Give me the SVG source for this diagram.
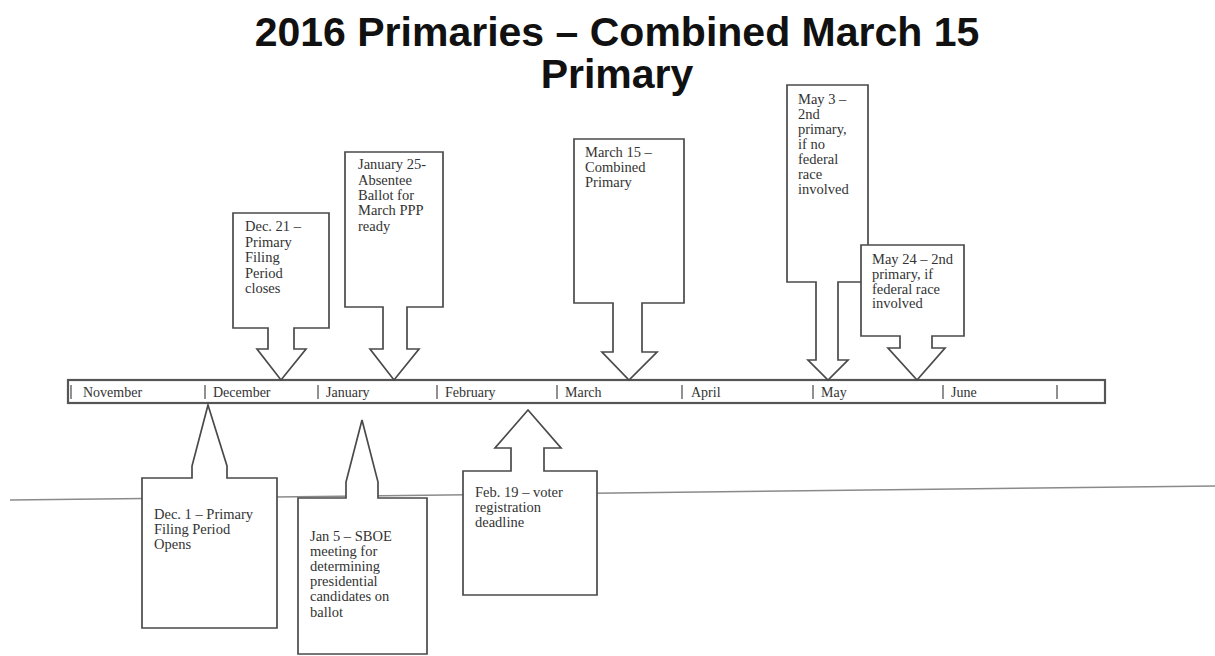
<svg xmlns="http://www.w3.org/2000/svg" width="1215" height="656" viewBox="0 0 1215 656">
<style>
.bg{fill:#ffffff}
.title{font-family:"Liberation Sans",Arial,sans-serif;font-weight:bold;font-size:41px;fill:#111;text-anchor:middle}
.callout{fill:#ffffff;stroke:#4a4a4a;stroke-width:1.7;stroke-linejoin:miter}
.t{font-family:"Liberation Serif","Times New Roman",serif;font-size:14.5px;fill:#333}
.m{font-family:"Liberation Serif","Times New Roman",serif;font-size:14px;fill:#333}
.bar{fill:#ffffff;stroke:#555;stroke-width:2.2}
.tick{stroke:#555;stroke-width:1.3}
.rule{stroke:#8a8a8a;stroke-width:1.5;fill:none}
</style>
<rect class="bg" x="0" y="0" width="1215" height="656"/>

<g id="title">
<text class="title" x="617" y="46">2016 Primaries – Combined March 15</text>
<text class="title" x="617" y="88">Primary</text>
</g>

<line class="rule" x1="10" y1="500" x2="1215" y2="486"/>

<g id="timeline">
<rect class="bar" x="68" y="380" width="1037" height="23"/>
<g>
<line class="tick" x1="71" y1="385" x2="71" y2="399"/>
<line class="tick" x1="205" y1="385" x2="205" y2="399"/>
<line class="tick" x1="318" y1="385" x2="318" y2="399"/>
<line class="tick" x1="437" y1="385" x2="437" y2="399"/>
<line class="tick" x1="557" y1="385" x2="557" y2="399"/>
<line class="tick" x1="682" y1="385" x2="682" y2="399"/>
<line class="tick" x1="813" y1="385" x2="813" y2="399"/>
<line class="tick" x1="943" y1="385" x2="943" y2="399"/>
<line class="tick" x1="1057" y1="385" x2="1057" y2="399"/>
</g>
<text class="m" x="83" y="397">November</text>
<text class="m" x="213" y="397">December</text>
<text class="m" x="326" y="397">January</text>
<text class="m" x="445" y="397">February</text>
<text class="m" x="565" y="397">March</text>
<text class="m" x="691" y="397">April</text>
<text class="m" x="821" y="397">May</text>
<text class="m" x="951" y="397">June</text>
</g>

<g id="connectors"></g>

<g id="dec21">
<path class="callout" d="M233,213 H329 V328 H294 V349 H306 L281,380 L257,349 H268 V328 H233 Z"/>
<text class="t" x="245" y="231">Dec. 21 –</text>
<text class="t" x="245" y="247">Primary</text>
<text class="t" x="245" y="262">Filing</text>
<text class="t" x="245" y="278">Period</text>
<text class="t" x="245" y="293">closes</text>
</g>

<g id="jan25">
<path class="callout" d="M345,152 H443 V307 H407 V349 H419 L394,380 L370,349 H383 V307 H345 Z"/>
<text class="t" x="358" y="169">January 25-</text>
<text class="t" x="358" y="185">Absentee</text>
<text class="t" x="358" y="200">Ballot for</text>
<text class="t" x="358" y="215">March PPP</text>
<text class="t" x="358" y="231">ready</text>
</g>

<g id="mar15">
<path class="callout" d="M574,139 H684 V303 H642 V352 H657 L629,380 L602,352 H613 V303 H574 Z"/>
<text class="t" x="585" y="157">March 15 –</text>
<text class="t" x="585" y="172">Combined</text>
<text class="t" x="585" y="187">Primary</text>
</g>

<g id="may3">
<path class="callout" d="M787,85 H868 V282 H838 V360 H848 L828,380 L808,360 H816 V282 H787 Z"/>
<text class="t" x="798" y="104">May 3 –</text>
<text class="t" x="798" y="119">2nd</text>
<text class="t" x="798" y="134">primary,</text>
<text class="t" x="798" y="149">if no</text>
<text class="t" x="798" y="164">federal</text>
<text class="t" x="798" y="179">race</text>
<text class="t" x="798" y="194">involved</text>
</g>

<g id="may24">
<path class="callout" d="M861,245 H964 V336 H932 V348 H945 L917,380 L888,348 H900 V336 H861 Z"/>
<text class="t" x="872" y="264">May 24 – 2nd</text>
<text class="t" x="872" y="279">primary, if</text>
<text class="t" x="872" y="294">federal race</text>
<text class="t" x="872" y="308">involved</text>
</g>

<g id="dec1">
<path class="callout" d="M208,405 L192,466 V478 H142 V628 H277 V478 H227 V466 Z"/>
<text class="t" x="154" y="519">Dec. 1 – Primary</text>
<text class="t" x="154" y="534">Filing Period</text>
<text class="t" x="154" y="549">Opens</text>
</g>

<g id="jan5">
<path class="callout" d="M362,420 L346,482 V498 H298 V654 H427 V498 H378 V482 Z"/>
<text class="t" x="310" y="541">Jan 5 – SBOE</text>
<text class="t" x="310" y="556">meeting for</text>
<text class="t" x="310" y="571">determining</text>
<text class="t" x="310" y="586">presidential</text>
<text class="t" x="310" y="601">candidates on</text>
<text class="t" x="310" y="617">ballot</text>
</g>

<g id="feb19">
<path class="callout" d="M528,410 L561,448 H544 V471 H597 V595 H463 V471 H511 V448 H495 Z"/>
<text class="t" x="475" y="497">Feb. 19 – voter</text>
<text class="t" x="475" y="512">registration</text>
<text class="t" x="475" y="527">deadline</text>
</g>
</svg>
